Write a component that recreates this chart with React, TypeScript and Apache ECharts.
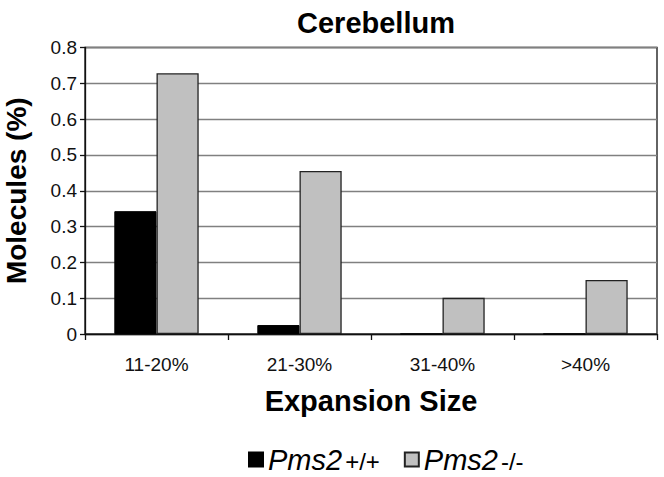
import React, { useEffect, useRef } from "react";
import * as echarts from "echarts";

const categories = ["11-20%", "21-30%", "31-40%", ">40%"];
const wildType = [0.343, 0.025, 0, 0];
const knockout = [0.728, 0.455, 0.101, 0.151];
const seriesNames = ["Pms2+/+", "Pms2-/-"];
const FONT = "'Liberation Sans', Arial, Helvetica, sans-serif";

export default function App() {
  const ref = useRef<HTMLDivElement>(null);
  useEffect(() => {
    if (!ref.current) return;
    const chart = echarts.init(ref.current, undefined, { renderer: "svg" });
    chart.setOption({
      animation: false,
      backgroundColor: "#fff",
      textStyle: { fontFamily: FONT },
      title: {
        text: "Cerebellum",
        left: 371,
        top: 3,
        textAlign: "center",
        textStyle: { fontFamily: FONT, fontSize: 29, fontWeight: "bold", color: "#000" },
      },
      legend: {
        left: 243,
        top: 440,
        itemWidth: 14,
        itemHeight: 14,
        itemGap: 24,
        icon: "rect",
        data: seriesNames,
        formatter: (name: string) => `{a|Pms2}{b|${name.slice(4)}}`,
        textStyle: {
          fontFamily: FONT,
          color: "#000",
          rich: {
            a: { fontFamily: FONT, fontStyle: "italic", fontSize: 29, lineHeight: 28, color: "#000" },
            b: { fontFamily: FONT, fontSize: 24, lineHeight: 24, color: "#000", padding: [3, 0, 0, 3] },
          },
        },
      },
      grid: {
        left: 85,
        right: 7,
        top: 47.5,
        bottom: 143,
        outerBoundsMode: "none",
        containLabel: false,
        show: true,
        borderColor: "#111",
        borderWidth: 1.3,
      },
      xAxis: {
        type: "category",
        data: categories,
        name: "Expansion Size",
        nameLocation: "middle",
        nameGap: 52,
        nameTextStyle: { fontFamily: FONT, fontSize: 29, fontWeight: "bold", color: "#000" },
        axisLine: { lineStyle: { color: "#111", width: 1.3 } },
        axisTick: { show: true, length: 6, lineStyle: { color: "#111", width: 1.3 } },
        axisLabel: { fontFamily: FONT, fontSize: 19, color: "#111", margin: 21 },
        splitLine: { show: false },
      },
      yAxis: {
        type: "value",
        min: 0,
        max: 0.8,
        interval: 0.1,
        name: "Molecules (%)",
        nameLocation: "middle",
        nameRotate: 90,
        nameGap: 55,
        nameTextStyle: { fontFamily: FONT, fontSize: 28, fontWeight: "bold", color: "#000" },
        axisLine: { show: true, lineStyle: { color: "#111", width: 1.3 } },
        axisTick: { show: true, length: 5, lineStyle: { color: "#111", width: 1.3 } },
        axisLabel: {
          fontFamily: FONT,
          fontSize: 19,
          color: "#111",
          margin: 8,
          formatter: (v: number) => (v === 0 ? "0" : v.toFixed(1)),
        },
        splitLine: { show: true, lineStyle: { color: "#808080", width: 1.3 } },
      },
      series: [
        {
          name: seriesNames[0],
          type: "bar",
          data: wildType,
          barGap: "0%",
          barCategoryGap: "41%",
          itemStyle: { color: "#000", borderColor: "#000", borderWidth: 1 },
        },
        {
          name: seriesNames[1],
          type: "bar",
          data: knockout,
          barGap: "0%",
          barCategoryGap: "41%",
          itemStyle: { color: "#c0c0c0", borderColor: "#222", borderWidth: 1.3 },
        },
      ],
    });
    return () => chart.dispose();
  }, []);
  return (
    <div
      ref={ref}
      style={{ position: "fixed", left: 0, top: 0, width: 664, height: 477 }}
    />
  );
}
